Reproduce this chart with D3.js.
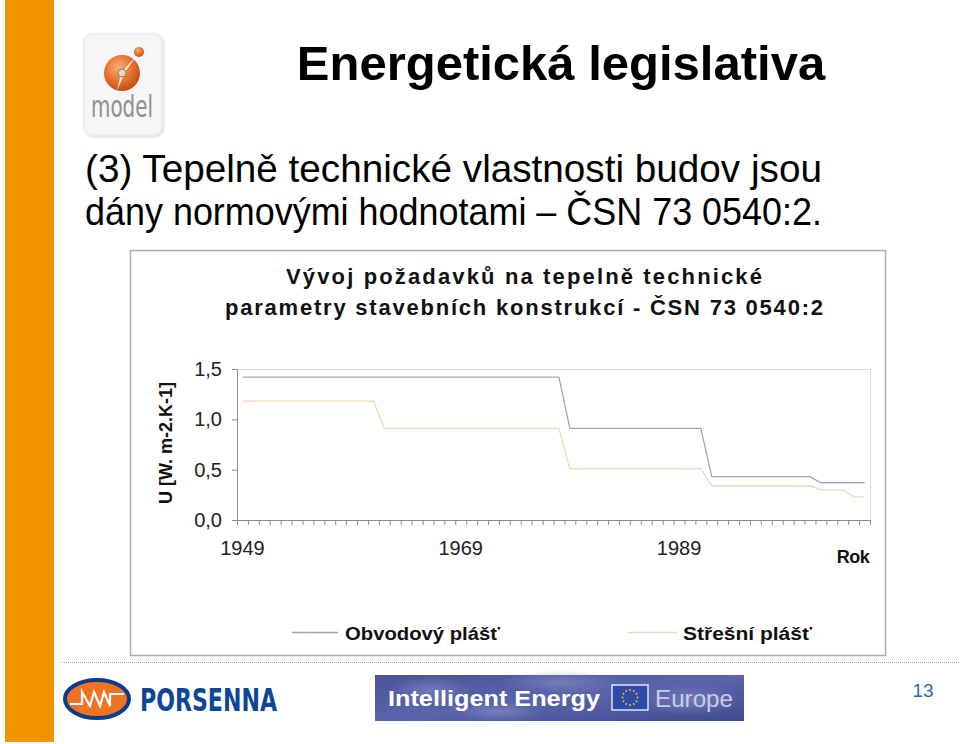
<!DOCTYPE html>
<html><head><meta charset="utf-8">
<script src="https://cdn.jsdelivr.net/npm/d3@7"></script>
<style>body{margin:0;background:#fff}svg{display:block}</style>
</head><body><svg id="c" width="960" height="744"></svg>
<script>
// ---------- data ----------
const years = [1949,1950,1951,1952,1953,1954,1955,1956,1957,1958,
  1959,1960,1961,1962,1963,1964,1965,1966,1967,1968,
  1969,1970,1971,1972,1973,1974,1975,1976,1977,1978,
  1979,1980,1981,1982,1983,1984,1985,1986,1987,1988,
  1989,1990,1991,1992,1993,1994,1995,1996,1997,1998,
  1999,2000,2001,2002,2003,2004,2005,2006];
const obvodovy = [1.42,1.42,1.42,1.42,1.42,1.42,1.42,1.42,1.42,1.42,
  1.42,1.42,1.42,1.42,1.42,1.42,1.42,1.42,1.42,1.42,
  1.42,1.42,1.42,1.42,1.42,1.42,1.42,1.42,1.42,1.42,
  0.91,0.91,0.91,0.91,0.91,0.91,0.91,0.91,0.91,0.91,
  0.91,0.91,0.91,0.43,0.43,0.43,0.43,0.43,0.43,0.43,
  0.43,0.43,0.43,0.37,0.37,0.37,0.37,0.37];
const stresni = [1.18,1.18,1.18,1.18,1.18,1.18,1.18,1.18,1.18,1.18,
  1.18,1.18,1.18,0.91,0.91,0.91,0.91,0.91,0.91,0.91,
  0.91,0.91,0.91,0.91,0.91,0.91,0.91,0.91,0.91,0.91,
  0.51,0.51,0.51,0.51,0.51,0.51,0.51,0.51,0.51,0.51,
  0.51,0.51,0.51,0.34,0.34,0.34,0.34,0.34,0.34,0.34,
  0.34,0.34,0.34,0.30,0.30,0.30,0.23,0.23];
const yTicks = [0, 0.5, 1.0, 1.5];
const xLabels = [1949, 1969, 1989];
const seriesNames = ["Obvodový plášť", "Střešní plášť"];
const seriesColors = ["#a2a5b9", "#eed8b8"];

const svg = d3.select("#c");
const F = "'Liberation Sans', Arial, sans-serif";

// ---------- slide decoration ----------
svg.append("rect").attr("x",5).attr("y",0).attr("width",49).attr("height",742).attr("fill","#f29400");

// model logo
const defs = svg.append("defs");
const fl = defs.append("filter").attr("id","sh").attr("x","-20%").attr("y","-20%").attr("width","140%").attr("height","140%");
fl.append("feDropShadow").attr("dx",1).attr("dy",1).attr("stdDeviation",1.5).attr("flood-color","#000").attr("flood-opacity",0.18);
const rg = defs.append("radialGradient").attr("id","ball").attr("cx","40%").attr("cy","35%").attr("r","65%");
rg.append("stop").attr("offset","0%").attr("stop-color","#f6b07a");
rg.append("stop").attr("offset","60%").attr("stop-color","#e8702a");
rg.append("stop").attr("offset","100%").attr("stop-color","#c0501a");
svg.append("rect").attr("x",84).attr("y",34).attr("width",78).attr("height",101).attr("rx",8)
  .attr("fill","#f6f6f6").attr("stroke","#e6e6e6").attr("filter","url(#sh)");
svg.append("circle").attr("cx",122).attr("cy",73).attr("r",18).attr("fill","url(#ball)");
svg.append("path").attr("d","M138,54 L125,72 L117,91 L121,73 Z").attr("fill","#fff").attr("opacity",0.9);
svg.append("circle").attr("cx",122).attr("cy",73).attr("r",4).attr("fill","#d9d9d9").attr("stroke","#b05020").attr("stroke-width",0.8);
svg.append("circle").attr("cx",139).attr("cy",52).attr("r",5).attr("fill","url(#ball)");
svg.append("text").attr("x",122).attr("y",117).attr("text-anchor","middle")
  .attr("font-family","'DejaVu Sans Condensed', 'DejaVu Sans', sans-serif").attr("font-size",30)
  .attr("fill","#8f8f8f").attr("textLength",62).attr("lengthAdjust","spacingAndGlyphs").text("model");

// slide title & body
svg.append("text").attr("x",561).attr("y",80).attr("text-anchor","middle").attr("font-family",F)
  .attr("font-weight","bold").attr("font-size",49).attr("fill","#000").text("Energetická legislativa");
svg.append("text").attr("x",85).attr("y",182).attr("font-family",F).attr("font-size",38.7).attr("fill","#000")
  .text("(3) Tepelně technické vlastnosti budov jsou");
svg.append("text").attr("x",85).attr("y",225).attr("font-family",F).attr("font-size",38.7).attr("fill","#000")
  .attr("textLength",737).attr("lengthAdjust","spacingAndGlyphs")
  .text("dány normovými hodnotami – ČSN 73 0540:2.");

// chart frame
svg.append("rect").attr("x",130.5).attr("y",250.5).attr("width",755).attr("height",405)
  .attr("fill","#fff").attr("stroke","#adadad").attr("stroke-width",1.5);

// chart title
const tl = [["Vývoj požadavků na tepelně technické",284,476],["parametry stavebních konstrukcí - ČSN 73 0540:2",315,598]];
tl.forEach(([t,yy,w]) => svg.append("text").attr("x",524).attr("y",yy).attr("text-anchor","middle")
  .attr("font-family",F).attr("font-weight","bold").attr("font-size",22).attr("fill","#111")
  .attr("textLength",w).attr("lengthAdjust","spacing").text(t));

// ---------- chart ----------
const L = 237, R = 870, T = 369, B = 520;
const x = d3.scaleBand().domain(years).range([L, R]).paddingInner(0).paddingOuter(0);
const xb = d3.scaleLinear().domain([0, years.length]).range([L, R]);
const y = d3.scaleLinear().domain([0, 1.5]).range([B, T]);

// plot area border (top/right)
svg.append("path").attr("d",`M${L},${T+0.5}H${R+0.5}V${B}`).attr("fill","none").attr("stroke","#dcdcdc").attr("stroke-width",1);

// x ticks at category boundaries
const gxt = svg.append("g").attr("transform",`translate(0,${B})`)
  .call(d3.axisBottom(xb).tickValues(d3.range(0, years.length + 1)).tickSize(5).tickSizeOuter(0).tickFormat(""));
gxt.select(".domain").attr("stroke","#8c8c8c");
gxt.selectAll(".tick line").attr("stroke","#8c8c8c");

// x labels
const gxl = svg.append("g").attr("transform",`translate(0,${B})`)
  .call(d3.axisBottom(x).tickValues(xLabels).tickSize(0).tickPadding(21));
gxl.select(".domain").remove();
gxl.selectAll("text").attr("font-family",F).attr("font-size",20).attr("fill","#222");

// y axis
const gy = svg.append("g").attr("transform",`translate(${L},0)`)
  .call(d3.axisLeft(y).tickValues(yTicks).tickSize(5).tickSizeOuter(0).tickPadding(10)
    .tickFormat(d => d3.format(".1f")(d).replace(".", ",")));
gy.select(".domain").attr("stroke","#8c8c8c");
gy.selectAll(".tick line").attr("stroke","#8c8c8c");
gy.selectAll("text").attr("font-family",F).attr("font-size",20).attr("fill","#222");

// lines
const line = d3.line().x((d,i) => x(years[i]) + x.bandwidth()/2).y(d => y(d));
[obvodovy, stresni].forEach((s, k) => {
  svg.append("path").datum(s).attr("d", line).attr("fill","none")
    .attr("stroke", seriesColors[k]).attr("stroke-width", 1.3);
});

// axis titles
svg.append("text").attr("transform","translate(172,443) rotate(-90)").attr("text-anchor","middle")
  .attr("font-family",F).attr("font-weight","bold").attr("font-size",18).attr("fill","#111").text("U [W. m-2.K-1]");
svg.append("text").attr("x",853).attr("y",563).attr("text-anchor","middle")
  .attr("font-family",F).attr("font-weight","bold").attr("font-size",18).attr("fill","#111")
  .attr("letter-spacing","-0.5").text("Rok");

// legend
const leg = [[292,338,345,155],[628,677,683,129]];
leg.forEach(([x1,x2,tx,w],k) => {
  svg.append("line").attr("x1",x1).attr("x2",x2).attr("y1",632.5).attr("y2",632.5)
    .attr("stroke",seriesColors[k]).attr("stroke-width",1.3);
  svg.append("text").attr("x",tx).attr("y",640).attr("font-family",F).attr("font-weight","bold")
    .attr("font-size",19).attr("fill","#111").attr("textLength",w).attr("lengthAdjust","spacingAndGlyphs")
    .text(seriesNames[k]);
});

// ---------- footer ----------
svg.append("line").attr("x1",62).attr("x2",960).attr("y1",662.5).attr("y2",662.5)
  .attr("stroke","#a0a0a0").attr("stroke-dasharray","1,1");

// Porsenna logo
svg.append("ellipse").attr("cx",97).attr("cy",699).attr("rx",32).attr("ry",19)
  .attr("fill","#f07322").attr("stroke","#0d3c8e").attr("stroke-width",4);
svg.append("path").attr("d","M70,704 H82 V692 L90,706 L94,692 L100,706 L104,692 L110,706 V694 H124")
  .attr("fill","none").attr("stroke","#fff").attr("stroke-width",2.2);
svg.append("text").attr("x",140).attr("y",711).attr("font-family","'DejaVu Sans Condensed', 'DejaVu Sans', sans-serif")
  .attr("font-weight","bold").attr("font-size",32).attr("fill","#0d4697")
  .attr("textLength",137).attr("lengthAdjust","spacingAndGlyphs").text("PORSENNA");

// Intelligent Energy banner
const bg = defs.append("linearGradient").attr("id","ban").attr("x1","0").attr("x2","1").attr("y1","0").attr("y2","1");
bg.append("stop").attr("offset","0%").attr("stop-color","#4a549c");
bg.append("stop").attr("offset","50%").attr("stop-color","#5964aa");
bg.append("stop").attr("offset","100%").attr("stop-color","#414b90");
const cl = defs.append("radialGradient").attr("id","cloud");
cl.append("stop").attr("offset","0%").attr("stop-color","#8d96c8").attr("stop-opacity",0.55);
cl.append("stop").attr("offset","100%").attr("stop-color","#8d96c8").attr("stop-opacity",0);
svg.append("rect").attr("x",375).attr("y",675).attr("width",369).attr("height",46).attr("fill","url(#ban)");
[[430,690,40,14],[560,682,60,12],[690,700,50,16],[500,712,45,10]].forEach(([cx,cy,rx,ry]) =>
  svg.append("ellipse").attr("cx",cx).attr("cy",cy).attr("rx",rx).attr("ry",ry).attr("fill","url(#cloud)"));
svg.append("text").attr("x",388).attr("y",706).attr("font-family",F).attr("font-weight","bold")
  .attr("font-size",22).attr("fill","#fff").attr("textLength",212).attr("lengthAdjust","spacingAndGlyphs")
  .text("Intelligent Energy");
svg.append("rect").attr("x",612).attr("y",685).attr("width",36).attr("height",25).attr("fill","#2f4aa8").attr("stroke","#dfe3f3").attr("stroke-width",1.5);
d3.range(12).forEach(i => {
  const a = i * Math.PI / 6;
  svg.append("circle").attr("cx",630 + 7.5*Math.cos(a)).attr("cy",697.5 + 7.5*Math.sin(a)).attr("r",0.9).attr("fill","#f5d300");
});
svg.append("text").attr("x",655).attr("y",707).attr("font-family",F).attr("font-size",24)
  .attr("fill","#c9cdea").attr("textLength",78).attr("lengthAdjust","spacingAndGlyphs").text("Europe");

// page number
svg.append("text").attr("x",923).attr("y",697).attr("text-anchor","middle").attr("font-family",F)
  .attr("font-size",19).attr("fill","#2a6cb0").text("13");
</script>
</body></html>
